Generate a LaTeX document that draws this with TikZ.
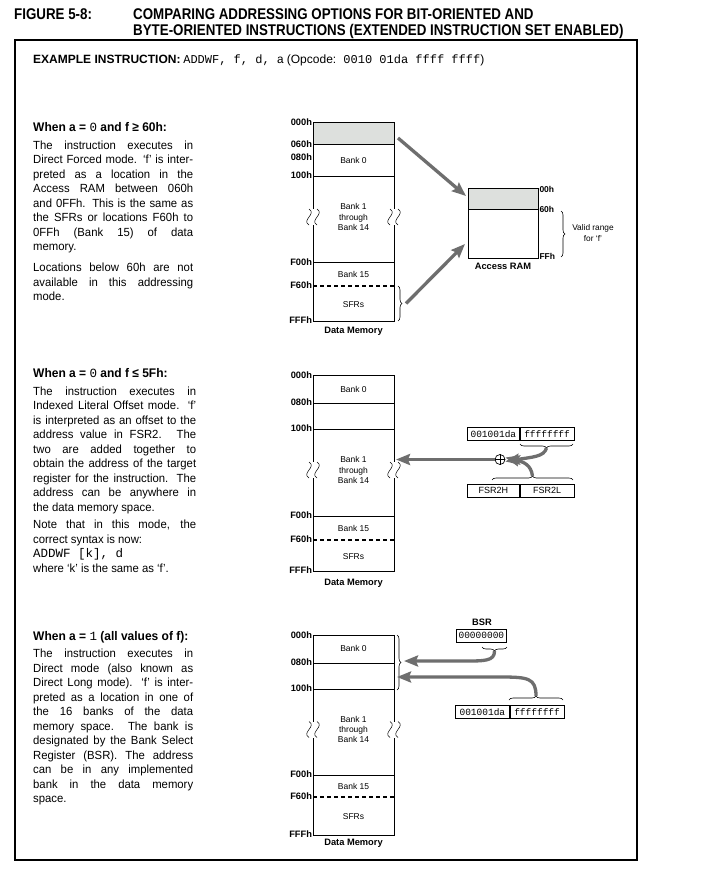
\documentclass[tikz,border=0pt]{standalone}
\usepackage{fontspec}
\setmainfont{Liberation Sans}
\setmonofont{Liberation Mono}
\newfontfamily\titlefont[FakeStretch=0.86]{Liberation Sans}
\newfontfamily\bodyfam[FakeStretch=0.96]{Liberation Sans}
\usetikzlibrary{arrows.meta,decorations.pathreplacing}
\definecolor{agray}{RGB}{110,110,110}
\definecolor{fillgray}{RGB}{221,224,221}
\newcommand\bodyfont{\bodyfam\fontsize{11.8}{14.5}\selectfont}
\newcommand\headfont{\bodyfam\bfseries\fontsize{12.5}{14.5}\selectfont}
\newcommand\labfont{\bfseries\fontsize{9.3}{10}\selectfont}
\newcommand\smlab{\bfseries\fontsize{8.5}{10}\selectfont}
\newcommand\bankfont{\fontsize{8.5}{10.4}\selectfont}
\newcommand\regfont{\ttfamily\fontsize{9.5}{10}\selectfont}
\newcommand\J[2][160pt]{\makebox[#1][s]{#2}}
\newcommand\brk[2]{%
  \fill[white] (#1-4,#2-8) rectangle (#1+4,#2+8);
  \draw[line width=0.5pt] (#1-4,#2-8) .. controls (#1+4,#2-3) and (#1-12,#2+3) .. (#1-4,#2+8);
  \draw[line width=0.5pt] (#1+4,#2-8) .. controls (#1+12,#2-3) and (#1-4,#2+3) .. (#1+4,#2+8);}
\begin{document}
\begin{tikzpicture}[x=1pt,y=-1pt,
  membox/.style={draw, line width=0.8pt},
  memline/.style={line width=0.8pt},
  memlab/.style={anchor=east, inner sep=0.8pt, font=\labfont},
  rlab/.style={anchor=west, inner sep=0.8pt, font=\smlab},
  banktxt/.style={align=center, inner sep=0pt, font=\bankfont},
  captxt/.style={inner sep=0pt, font=\labfont},
  bigarrow/.style={draw=agray, line width=3.3pt, -{Stealth[length=14pt,width=11pt,inset=2pt]}},
  regbox/.style={draw, line width=0.7pt, minimum height=13pt, inner sep=0pt, font=\regfont},
  brc/.style={decorate, decoration={brace, amplitude=4pt}, line width=0.6pt},
  dashln/.style={dash pattern=on 4pt off 3pt, line width=1.1pt},
  para/.style={anchor=north west, inner sep=0pt, font=\bodyfont, align=left},
  headtxt/.style={anchor=north west, inner sep=0pt, font=\headfont},
  titletxt/.style={anchor=base west, inner sep=0pt, font=\titlefont\bfseries\fontsize{15.5}{17}\selectfont},
]
\useasboundingbox (0,0) rectangle (702,878);
\fill[white] (0,0) rectangle (702,878);

% ---------- title ----------
\node[titletxt] (fig) at (14,19.5) {FIGURE 5-8:};
\node[titletxt] (title1) at (133,19.5) {COMPARING ADDRESSING OPTIONS FOR BIT-ORIENTED AND};
\node[titletxt] (title2) at (133,35.5) {BYTE-ORIENTED INSTRUCTIONS (EXTENDED INSTRUCTION SET ENABLED)};
\draw[line width=1.4pt] (15,40) rectangle (637,860);
\node[anchor=base west, inner sep=0pt] (ex) at (33,63.5)
  {{\bfseries\fontsize{12}{14}\selectfont EXAMPLE INSTRUCTION:}
   {\ttfamily\fontsize{12}{14}\selectfont ADDWF, f, d, a}
   {\fontsize{12}{14}\selectfont (Opcode:}{\ttfamily\fontsize{12}{14}\selectfont\ 0010 01da ffff ffff}{\fontsize{12}{14}\selectfont )}};

% ---------- section 1 text ----------
\node[headtxt] (h1) at (33,122.2) {When a = {\mdseries\ttfamily 0} and f ≥ 60h:};
\node[para] (p1a) at (33,140.5) {\J{The instruction executes in}\\
\J{Direct Forced mode. ‘f’ is inter-}\\
\J{preted as a location in the}\\
\J{Access RAM between 060h}\\
\J{and 0FFh. This is the same as}\\
\J{the SFRs or locations F60h to}\\
\J{0FFh (Bank 15) of data}\\
memory.};
\node[para] (p1b) at (33,263) {\J{Locations below 60h are not}\\
\J{available in this addressing}\\
mode.};

% ---------- section 1 memory ----------
\fill[fillgray] (313,122) rectangle (394,144);
\draw[membox] (313,122) rectangle (394,321);
\draw[memline] (313,144) -- (394,144);
\draw[memline] (313,176) -- (394,176);
\draw[memline] (313,262) -- (394,262);
\draw[dashln] (313,286) -- (394,286);
\node[memlab] (a000) at (313,122) {000h};
\node[memlab] (a060) at (313,144.5) {060h};
\node[memlab] (a080) at (313,157) {080h};
\node[memlab] (a100) at (313,175) {100h};
\node[memlab] (af00) at (313,262) {F00h};
\node[memlab] (af60) at (313,285.5) {F60h};
\node[memlab] (afff) at (313,320) {FFFh};
\node[banktxt] (ab0) at (353.5,160) {Bank 0};
\node[banktxt] (ab1) at (353.5,217) {Bank 1\\through\\Bank 14};
\node[banktxt] (ab15) at (353.5,274) {Bank 15};
\node[banktxt] (asfr) at (353.5,305) {SFRs};
\node[captxt] (adm) at (353.5,331) {Data Memory};
\brk{313}{217}
\brk{394}{217}
\draw[brc] (398,286) -- (398,321);
\coordinate (sfrtip) at (406,303.5);
\coordinate (grytop) at (398,138);

% access RAM
\fill[fillgray] (468,188) rectangle (538,209);
\draw[membox] (468,188) rectangle (538,258);
\draw[memline] (468,209) -- (538,209);
\node[rlab] (r00) at (538.5,189) {00h};
\node[rlab] (r60) at (538.5,209) {60h};
\node[rlab] (rff) at (538.5,256) {FFh};
\draw[brc] (561,211) -- (561,257);
\node[banktxt, font=\fontsize{8.3}{10.5}\selectfont] (valid) at (593,233) {Valid range\\for ‘f’};
\node[captxt] (accram) at (503,266.5) {Access RAM};
\coordinate (accin1) at (466,196);
\coordinate (accin2) at (465,244);
\draw[bigarrow] (grytop) -- (accin1);
\draw[bigarrow] (sfrtip) -- (accin2);

% ---------- section 2 text ----------
\node[headtxt] (h2) at (33,368.7) {When a = {\mdseries\ttfamily 0} and f ≤ 5Fh:};
\node[para] (p2a) at (33,386.3) {\J[163pt]{The instruction executes in}\\
\J[163pt]{Indexed Literal Offset mode. ‘f’}\\
\J[163pt]{is interpreted as an offset to the}\\
\J[163pt]{address value in FSR2. The}\\
\J[163pt]{two are added together to}\\
\J[163pt]{obtain the address of the target}\\
\J[163pt]{register for the instruction. The}\\
\J[163pt]{address can be anywhere in}\\
the data memory space.};
\node[para] (p2b) at (33,520) {\J[163pt]{Note that in this mode, the}\\
correct syntax is now:\\
{\ttfamily\fontsize{12.5}{14.5}\selectfont ADDWF [k], d}\\
where ‘k’ is the same as ‘f’.};

% ---------- section 2 memory ----------
\draw[membox] (313,375) rectangle (394,571);
\draw[memline] (313,403) -- (394,403);
\draw[memline] (313,429) -- (394,429);
\draw[memline] (313,516) -- (394,516);
\draw[dashln] (313,540) -- (394,540);
\node[memlab] (b000) at (313,375) {000h};
\node[memlab] (b080) at (313,402.5) {080h};
\node[memlab] (b100) at (313,428.5) {100h};
\node[memlab] (bf00) at (313,515.5) {F00h};
\node[memlab] (bf60) at (313,539.5) {F60h};
\node[memlab] (bfff) at (313,570) {FFFh};
\node[banktxt] (bb0) at (353.5,389) {Bank 0};
\node[banktxt] (bb1) at (353.5,470) {Bank 1\\through\\Bank 14};
\node[banktxt] (bb15) at (353.5,528) {Bank 15};
\node[banktxt] (bsfr) at (353.5,557) {SFRs};
\node[captxt] (bdm) at (353.5,583) {Data Memory};
\brk{313}{470}
\brk{394}{470}
\node[regbox, minimum width=52pt, anchor=north west] (bra) at (467,427) {001001da};
\node[regbox, minimum width=54pt, anchor=north west] (brf) at (bra.north east) {ffffffff};
\node[regbox, minimum width=52pt, anchor=north west, font=\fontsize{9}{10}\selectfont] (bfh) at (467,484) {FSR2H};
\node[regbox, minimum width=54pt, anchor=north west, font=\fontsize{9}{10}\selectfont] (bfl) at (bfh.north east) {FSR2L};
\draw[brc] (573,444) -- (520,444);
\draw[brc] (492,480) -- (573,480);
\coordinate (ftip) at (546.5,448);
\coordinate (fsrtip) at (532.5,476);
\node[draw, circle, fill=white, line width=0.7pt, minimum size=10pt, inner sep=0pt] (plus) at (500,459.5) {};
\draw[line width=0.7pt] (plus.north) -- (plus.south) (plus.west) -- (plus.east);
\coordinate (bin) at (396,459.5);
\draw[bigarrow] (ftip) .. controls (544,457) and (532,457) .. ([yshift=-2pt]plus.east);
\draw[bigarrow] (fsrtip) .. controls (531,465) and (524,462) .. ([yshift=2pt]plus.east);
\draw[bigarrow] (plus.west) -- (bin);

% ---------- section 3 text ----------
\node[headtxt] (h3) at (33,631.2) {When a = {\mdseries\ttfamily 1} (all values of f):};
\node[para] (p3a) at (33,649) {\J{The instruction executes in}\\
\J{Direct mode (also known as}\\
\J{Direct Long mode). ‘f’ is inter-}\\
\J{preted as a location in one of}\\
\J{the 16 banks of the data}\\
\J{memory space. The bank is}\\
\J{designated by the Bank Select}\\
\J{Register (BSR). The address}\\
\J{can be in any implemented}\\
\J{bank in the data memory}\\
space.};

% ---------- section 3 memory ----------
\draw[membox] (313,635) rectangle (394,835);
\draw[memline] (313,663) -- (394,663);
\draw[memline] (313,689) -- (394,689);
\draw[memline] (313,775) -- (394,775);
\draw[dashln] (313,797) -- (394,797);
\node[memlab] (c000) at (313,635) {000h};
\node[memlab] (c080) at (313,662.5) {080h};
\node[memlab] (c100) at (313,688.5) {100h};
\node[memlab] (cf00) at (313,774.5) {F00h};
\node[memlab] (cf60) at (313,796.5) {F60h};
\node[memlab] (cfff) at (313,834) {FFFh};
\node[banktxt] (cb0) at (353.5,648) {Bank 0};
\node[banktxt] (cb1) at (353.5,729.5) {Bank 1\\through\\Bank 14};
\node[banktxt] (cb15) at (353.5,786.5) {Bank 15};
\node[banktxt] (csfr) at (353.5,816.5) {SFRs};
\node[captxt] (cdm) at (353.5,843) {Data Memory};
\brk{313}{729.5}
\brk{394}{729.5}
\draw[brc] (397,635) -- (397,690);
\node[captxt] (bsrl) at (482,622) {BSR};
\node[regbox, minimum width=50pt, anchor=north west] (bsr) at (456,629) {00000000};
\draw[brc] (507,647) -- (482,647);
\node[regbox, minimum width=54pt, anchor=north west] (cra) at (455,705) {001001da};
\node[regbox, minimum width=54pt, anchor=north west] (crf) at (cra.north east) {ffffffff};
\draw[brc] (509,700) -- (563,700);
\coordinate (bsrtip) at (494.5,651);
\coordinate (crftip) at (536,696);
\coordinate (cin1) at (404,661);
\coordinate (cin2) at (397,677);
\draw[bigarrow] (bsrtip) .. controls (494.5,661) and (485,661) .. (465,661) -- (cin1);
\draw[bigarrow] (crftip) .. controls (536,678) and (528,677) .. (500,677) -- (cin2);
\end{tikzpicture}
\end{document}
